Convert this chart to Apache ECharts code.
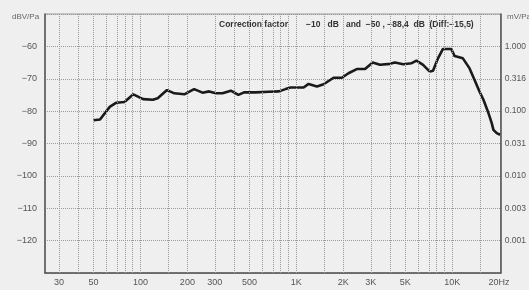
<!DOCTYPE html>
<html>
<head>
<meta charset="utf-8">
<script src="https://cdn.jsdelivr.net/npm/echarts@6/dist/echarts.min.js"></script>
<style>
  html, body { margin: 0; padding: 0; background: #efefef; }
  #chart { width: 529px; height: 290px; }
</style>
</head>
<body>
<div id="chart"></div>
<script>
// frequency response (Hz / dBV/Pa)
const freqs = [50, 55, 63.5, 70, 79, 90, 104, 120, 129, 148, 165, 191, 206, 221, 250, 276, 305, 336, 380, 425,
  462, 549, 667, 773, 853, 918, 1040, 1114, 1199, 1357, 1497, 1734, 1960, 2162, 2443, 2761, 3090, 3443, 3990, 4295,
  4850, 5495, 5910, 6510, 7185, 7540, 8110, 8730, 9870, 10370, 11720, 12940, 13930, 15000, 15880, 17100, 17950, 18400, 19320, 20300];
const levels = [-82.8, -82.6, -78.7, -77.4, -77.2, -74.8, -76.3, -76.5, -76.0, -73.5, -74.5, -74.8, -74.0, -73.2, -74.3, -73.9, -74.5, -74.5, -73.7, -75.0,
  -74.2, -74.2, -74.0, -73.9, -73.2, -72.7, -72.7, -72.7, -71.6, -72.4, -71.7, -69.7, -69.7, -68.3, -67.0, -67.0, -65.0, -65.7, -65.4, -65.0,
  -65.5, -65.2, -64.4, -65.7, -67.8, -67.5, -63.7, -60.8, -60.8, -63.0, -63.7, -66.8, -70.4, -74.0, -76.5, -80.6, -83.7, -85.8, -86.8, -87.3];

const gridFreqs = [30, 40, 50, 60, 70, 80, 90, 100, 150, 200, 300, 400, 500, 600, 700, 800, 900,
  1000, 1500, 2000, 3000, 4000, 5000, 6000, 7000, 8000, 9000, 10000, 15000];
const xTickFreqs = [30, 50, 100, 200, 300, 500, 1000, 2000, 3000, 5000, 10000, 20000];
const xTickLabels = ['30', '50', '100', '200', '300', '500', '1K', '2K', '3K', '5K', '10K', '20Hz'];
const leftTicks = [-60, -70, -80, -90, -100, -110, -120];
const rightTickLabels = ['1.000', '0.316', '0.100', '0.031', '0.010', '0.003', '0.001'];

const lg = Math.log10;
const font = 'Liberation Sans, Arial, sans-serif';

const chart = echarts.init(document.getElementById('chart'));

const xLabel = (v) => {
  const i = xTickFreqs.findIndex((f) => Math.abs(lg(f) - v) < 1e-6);
  return i >= 0 ? xTickLabels[i] : '';
};

chart.setOption({
  backgroundColor: '#efefef',
  animation: false,
  grid: {
    left: 45, right: 26, top: 14, bottom: 17,
    show: true, borderColor: '#9a9a9a', borderWidth: 1, backgroundColor: 'transparent'
  },
  graphic: [
    { type: 'text', left: 12, top: 13, style: { text: 'dBV/Pa', font: '8px ' + font, fill: '#666' } },
    { type: 'text', left: 507, top: 13, style: { text: 'mV/Pa', font: '8px ' + font, fill: '#666' } },
    { type: 'text', left: 219, top: 20, style: { text: 'Correction factor', font: 'bold 8.5px ' + font, fill: '#333' } },
    { type: 'text', left: 306, top: 20, style: { text: '\u221210   dB   and  \u221250 , \u221288,4  dB  (Diff:\u221215,5)', font: 'bold 8.5px ' + font, fill: '#333' } }
  ],
  xAxis: {
    type: 'value',
    min: lg(24.4),
    max: lg(20500),
    axisLine: { show: true, onZero: false, lineStyle: { color: '#555', width: 1.5 } },
    axisTick: { show: false },
    splitLine: { show: false },
    axisLabel: {
      customValues: xTickFreqs.map(lg),
      formatter: xLabel,
      margin: 5,
      fontSize: 9,
      fontFamily: font,
      color: '#555'
    }
  },
  yAxis: [
    {
      type: 'value',
      min: -130, max: -50, interval: 10,
      axisLine: { show: true, lineStyle: { color: '#555', width: 1.5 } },
      axisTick: { show: false },
      splitLine: { show: true, lineStyle: { color: '#9a9a9a', type: [1, 1], width: 1 } },
      axisLabel: {
        margin: 8,
        fontSize: 9,
        fontFamily: font,
        color: '#555',
        formatter: (v) => (leftTicks.includes(v) ? '\u2212' + Math.abs(v) : '')
      }
    },
    {
      type: 'value',
      position: 'right',
      min: -130, max: -50, interval: 10,
      axisLine: { show: true, lineStyle: { color: '#555', width: 1.5 } },
      axisTick: { show: false },
      splitLine: { show: false },
      axisLabel: {
        margin: 4,
        fontSize: 8.5,
        fontFamily: font,
        color: '#555',
        formatter: (v) => {
          const i = leftTicks.indexOf(v);
          return i >= 0 ? rightTickLabels[i] : '';
        }
      }
    }
  ],
  series: [
    {
      type: 'line',
      data: [],
      z: 1,
      silent: true,
      markLine: {
        silent: true,
        symbol: 'none',
        label: { show: false },
        lineStyle: { color: '#9a9a9a', type: [1, 1], width: 1 },
        data: gridFreqs.map((f) => ({ xAxis: lg(f) }))
      }
    },
    {
      type: 'line',
      z: 3,
      data: freqs.map((f, i) => [lg(f), levels[i]]),
      showSymbol: false,
      lineStyle: { color: '#1a1a1a', width: 2.6 },
      emphasis: { disabled: true }
    }
  ]
});
</script>
</body>
</html>
